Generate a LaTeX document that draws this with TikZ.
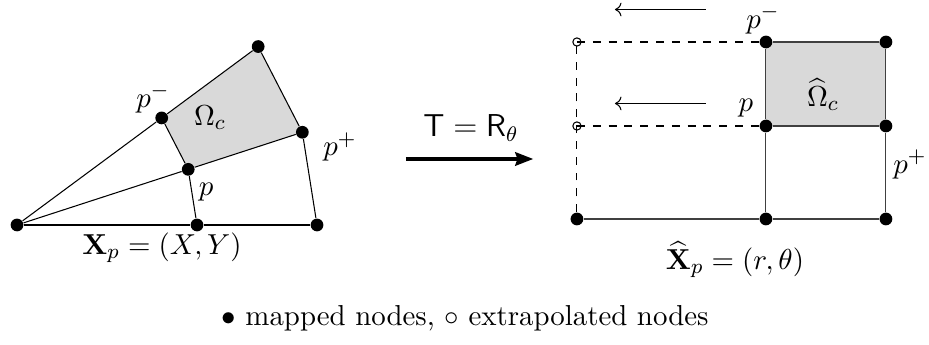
\documentclass[tikz,border=0pt,11pt]{standalone}
\usepackage{amsmath,amssymb}
\usepackage{tikz}
\usetikzlibrary{positioning, arrows.meta, calc}

\begin{document}
\begin{tikzpicture}[
    dot/.style={circle, fill=black, inner sep=0pt, minimum size=0.17cm},
    hollow/.style={circle, draw=black, thin, inner sep=0pt, minimum size=0.11cm},
    edge/.style={thin, black},
    gedge/.style={thin, black!75},
    ghost/.style={thin, black, dashed},
    cell/.style={fill=gray!30},
    slide/.style={<-, thin},
    map/.style={-{Stealth[length=2.4mm, width=1.8mm, inset=0.3mm]}, line width=1.25pt},
]
\useasboundingbox (0,0) rectangle (12.387,4.6);

% ---- Left: physical cell (X, Y) ----
\coordinate (lO) at (0.227,1.6);
\fill[cell] ($(lO)+(18:2.4)$) -- ($(lO)+(36.5:2.4)$) -- ($(lO)+(36.5:4)$) -- ($(lO)+(18:4)$) -- cycle;

\node[dot] (o)  at (lO) {};
\node[dot] (a)  at ($(lO)+(0:2.4)$) {};
\node[dot] (b)  at ($(lO)+(0:4)$) {};
\node[dot] (p)  at ($(lO)+(18:2.4)$) {};
\node[dot] (pp) at ($(lO)+(18:4)$) {};
\node[dot] (pm) at ($(lO)+(36.5:2.4)$) {};
\node[dot] (t)  at ($(lO)+(36.5:4)$) {};

\draw[edge] (o) -- (a) -- (b);
\draw[edge] (o) -- (p) -- (pp);
\draw[edge] (o) -- (pm) -- (t);
\draw[edge] (a) -- (p) -- (pm);
\draw[edge] (b) -- (pp) -- (t);

\node at (2.04,3.29)  {$p^-$};
\node at (2.8,3.03)   {$\Omega_c$};
\node at (4.533,2.64) {$p^+$};
\node at (2.747,2.04) {$p$};
\node at (2.16,1.3)   {$\mathbf{X}_p=(X,Y)$};

% ---- Middle: the map ----
\coordinate (mS) at (5.413,2.48);
\coordinate (mE) at (7.11,2.48);
\draw[map] (mS) -- (mE);
\node[font=\large] at (6.28,2.89) {$\mathsf{T}=\mathsf{R}_\theta$};

% ---- Right: reference cell (r, theta) ----
\fill[cell] (10.213,2.92) rectangle (11.813,4.04);

\node[dot]    (q00) at (7.693,1.68) {};
\node[dot]    (q10) at (10.213,1.68) {};
\node[dot]    (q20) at (11.813,1.68) {};
\node[hollow] (q01) at (7.693,2.92) {};
\node[dot]    (q11) at (10.213,2.92) {};
\node[dot]    (q21) at (11.813,2.92) {};
\node[hollow] (q02) at (7.693,4.04) {};
\node[dot]    (q12) at (10.213,4.04) {};
\node[dot]    (q22) at (11.813,4.04) {};

\draw[gedge] (q00) -- (q10) -- (q20);
\draw[gedge] (q10) -- (q11) -- (q12);
\draw[gedge] (q20) -- (q21) -- (q22);
\draw[gedge] (q11) -- (q21);
\draw[gedge] (q12) -- (q22);

% extrapolated
\draw[ghost] (q00) -- (q01.center) -- (q02.center);
\draw[ghost] (q01.center) -- (q11);
\draw[ghost] (q02.center) -- (q12);

\coordinate (s1a) at (8.2,4.473);
\coordinate (s1b) at (9.413,4.473);
\coordinate (s2a) at (8.2,3.22);
\coordinate (s2b) at (9.413,3.22);
\draw[slide] (s1a) -- (s1b);
\draw[slide] (s2a) -- (s2b);

\node at (10.173,4.34)  {$p^-$};
\node at (9.947,3.153)  {$p$};
\node at (12.133,2.407) {$p^+$};
\node at (10.973,3.34)  {$\widehat{\Omega}_c$};
\node at (9.8,1.14)     {$\widehat{\mathbf{X}}_p=(r,\theta)$};

% ---- Legend ----
\node at (6.2,0.36) {$\bullet$ mapped nodes, $\circ$ extrapolated nodes};

\end{tikzpicture}
\end{document}
